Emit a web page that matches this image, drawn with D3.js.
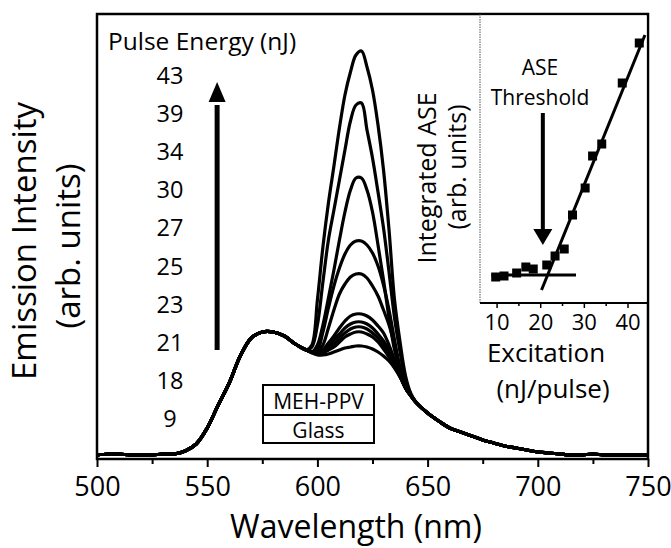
<!DOCTYPE html>
<html><head><meta charset="utf-8">
<script src="https://cdn.jsdelivr.net/npm/d3@7"></script>
<style>
body{margin:0;background:#fff}
svg text{font-family:"Open Sans",sans-serif;fill:#000}
</style>
</head><body>
<svg id="c" width="671" height="548"></svg>
<script>
// ---------- DATA ----------
const wlLeft   = [500,505,510,515,520,525,530,535,540,545,550,555,560,565,570,575,580,585,590];
const baseLeft = [0,1,1,0,0,0,1,1,4,11,27,50,72,99,117,123,123,119,111];
const wlPeak   = [595,597.5,600,602.5,605,607.5,610,612.5,615,617.5,620,622.5,625,627.5,630,632.5,635,637.5,640,642.5,645];
const wlRight  = [650,655,660,665,670,675,680,685,690,695,700,705,710,715,720,725,730,735,740,745,750];
const baseRight= [42,34,27,23,19,15,12,9,7,5,3,2,1,0,0,1,0,0,0,0,0];

const s9  = [105,102,100,100,101,103,105,107,108,109,109,108,106,103,99,94,87,78,67,59,52];
const s18 = [105,103,102,102,105,108,113,118,121,123,123,121,118,113,106,98,88,78,67,59,52];
const s21 = [105,103,102,102,106,111,117,122,126,128,128,126,122,117,110,101,90,79,67,59,52];
const s23 = [105,103,102,103,108,115,121,127,131,133,133,131,127,121,114,105,92,80,67,59,52];
const s25 = [105,103,102,105,112,119,127,134,139,141,141,139,135,129,122,110,95,81,67,59,52];
const s27 = [105,103,103,110,127,145,161,171,178,181,181,177,169,159,145,130,110,87,67,59,52];
const s30 = [105,103,105,123,147,169,187,201,210,214,214,210,202,189,170,145,115,87,67,59,52];
const s34 = [105,103,110,130,157,185,215,243,265,277,277,265,243,210,175,137,105,85,67,59,52];
const s39 = [105,108,130,173,215,245,275,305,334,350,352,325,297,263,227,183,137,103,75,60,52];
const s43 = [105,110,155,208,252,289,327,360,383,400,404,388,365,330,285,225,155,113,79,61,52];

const energies = [43,39,34,30,27,25,23,21,18,9];
const peakSeries = [s43,s39,s34,s30,s27,s25,s23,s21,s18,s9];

const xTicks = [500,550,600,650,700,750];
const xMinor = [525,575,625,675,725];

// inset
const excitation = [9.8,11.7,14.6,16.7,18.4,21.5,23.4,25.5,27.4,30.3,32.0,34.1,38.8,42.7];
const integratedASE = [26,27,30,36,34,38,47,54,88,115,147,159,220,260];
const fitBelowX = [8.8,28.2], fitBelowY = [28,28];
const fitAboveX = [20.3,44.0], fitAboveY = [13,268];
const insetTicks = [10,20,30,40];
const insetMinor = [15,25,35];
const thresholdX = 20.6;

// ---------- DRAW ----------
const svg = d3.select("#c");
const L=97, R=648, T=14, B=459;
const x = d3.scaleLinear().domain([500,750]).range([L,R]);
const y = d3.scaleLinear().domain([-4,441]).range([B,T]);

// spectra
const line = d3.line().x(d=>x(d[0])).y(d=>y(d[1])).curve(d3.curveCatmullRom.alpha(0.5));
const gS = svg.append("g");
peakSeries.slice().reverse().forEach(s=>{
  const pts = wlLeft.map((w,i)=>[w,baseLeft[i]])
    .concat(wlPeak.map((w,i)=>[w,s[i]]))
    .concat(wlRight.map((w,i)=>[w,baseRight[i]]));
  gS.append("path").attr("d",line(pts)).attr("fill","none")
    .attr("stroke","#000").attr("stroke-width",3.2).attr("stroke-linejoin","round");
});

// x axis
const ax = d3.axisBottom(x).tickValues(xTicks).tickSize(8).tickPadding(10).tickFormat(d3.format("d"));
const gx = svg.append("g").attr("transform",`translate(0,${B})`).call(ax);
gx.select(".domain").remove();
gx.selectAll("line").attr("stroke","#000").attr("stroke-width",2);
gx.selectAll("text").attr("font-size",27).style("font-family","Open Sans");
const gxm = svg.append("g").attr("transform",`translate(0,${B})`)
  .call(d3.axisBottom(x).tickValues(xMinor).tickSize(5).tickFormat(""));
gxm.select(".domain").remove();
gxm.selectAll("line").attr("stroke","#000").attr("stroke-width",2);

// frame
svg.append("rect").attr("x",L).attr("y",T).attr("width",R-L).attr("height",B-T)
  .attr("fill","none").attr("stroke","#000").attr("stroke-width",2.5);

// titles
svg.append("text").attr("x",356).attr("y",538).attr("text-anchor","middle")
  .attr("font-size",32).text("Wavelength (nm)");
svg.append("text").attr("transform","translate(36,241) rotate(-90)").attr("text-anchor","middle")
  .attr("font-size",33).text("Emission Intensity");
svg.append("text").attr("transform","translate(80,246) rotate(-90)").attr("text-anchor","middle")
  .attr("font-size",33).text("(arb. units)");

// legend of pulse energies
svg.append("text").attr("x",108).attr("y",50).attr("font-size",24.5).text("Pulse Energy (nJ)");
energies.forEach((e,i)=>{
  svg.append("text").attr("x",170).attr("y",83.5+i*38.2).attr("text-anchor","middle")
    .attr("font-size",23.5).text(e);
});
// arrow
const ax0 = x(554.5);
svg.append("line").attr("x1",ax0).attr("x2",ax0).attr("y1",y(105)).attr("y2",y(350))
  .attr("stroke","#000").attr("stroke-width",5);
svg.append("path").attr("d",`M${ax0},${y(373)} L${ax0-8.5},${y(353)} L${ax0+8.5},${y(353)} Z`).attr("fill","#000");

// sample box
const bx0=263,bx1=374,by0=385,by1=415,by2=443;
svg.append("rect").attr("x",bx0).attr("y",by0).attr("width",bx1-bx0).attr("height",by2-by0)
  .attr("fill","#fff").attr("stroke","#000").attr("stroke-width",2);
svg.append("line").attr("x1",bx0).attr("x2",bx1).attr("y1",by1).attr("y2",by1).attr("stroke","#000").attr("stroke-width",2);
svg.append("text").attr("x",(bx0+bx1)/2).attr("y",408.5).attr("text-anchor","middle").attr("font-size",21).text("MEH-PPV");
svg.append("text").attr("x",(bx0+bx1)/2).attr("y",437.5).attr("text-anchor","middle").attr("font-size",21).text("Glass");

// ---------- INSET ----------
const IL=480, IR=648, IT=14, IB=303;
const ix = d3.scaleLinear().domain([6.2,44.7]).range([IL,IR]);
const iy = d3.scaleLinear().domain([0,289]).range([IB,IT]);
svg.append("rect").attr("x",IL).attr("y",IT+1.5).attr("width",IR-IL-1.5).attr("height",IB-IT-1.5).attr("fill","#fff");
svg.append("line").attr("x1",IL).attr("x2",IL).attr("y1",IT).attr("y2",IB)
  .attr("stroke","#555").attr("stroke-width",1).attr("stroke-dasharray","1.5,1");
svg.append("line").attr("x1",IL).attr("x2",IR).attr("y1",IB).attr("y2",IB)
  .attr("stroke","#000").attr("stroke-width",2);
const gi = svg.append("g").attr("transform",`translate(0,${IB})`)
  .call(d3.axisBottom(ix).tickValues(insetTicks).tickSize(5).tickPadding(6));
gi.select(".domain").remove();
gi.selectAll("line").attr("stroke","#000").attr("stroke-width",1.5);
gi.selectAll("text").attr("font-size",22).style("font-family","Open Sans");
const gim = svg.append("g").attr("transform",`translate(0,${IB})`)
  .call(d3.axisBottom(ix).tickValues(insetMinor).tickSize(3).tickFormat(""));
gim.select(".domain").remove();
gim.selectAll("line").attr("stroke","#000").attr("stroke-width",1.5);

const fl = d3.line().x(d=>ix(d[0])).y(d=>iy(d[1]));
svg.append("path").attr("d",fl(fitBelowX.map((v,i)=>[v,fitBelowY[i]])))
  .attr("stroke","#000").attr("stroke-width",3).attr("fill","none");
svg.append("path").attr("d",fl(fitAboveX.map((v,i)=>[v,fitAboveY[i]])))
  .attr("stroke","#000").attr("stroke-width",3).attr("fill","none");
const sq = 9;
svg.append("g").selectAll("rect").data(excitation).join("rect")
  .attr("x",(d)=>ix(d)-sq/2).attr("y",(d,i)=>iy(integratedASE[i])-sq/2)
  .attr("width",sq).attr("height",sq).attr("fill","#000");

// inset arrow
const tx = ix(thresholdX);
svg.append("line").attr("x1",tx).attr("x2",tx).attr("y1",iy(190)).attr("y2",iy(70))
  .attr("stroke","#000").attr("stroke-width",4);
svg.append("path").attr("d",`M${tx},${iy(58)} L${tx-9.5},${iy(74)} L${tx+9.5},${iy(74)} Z`).attr("fill","#000");
svg.append("text").attr("x",540).attr("y",75).attr("text-anchor","middle").attr("font-size",21).text("ASE");
svg.append("text").attr("x",540).attr("y",105).attr("text-anchor","middle").attr("font-size",21).text("Threshold");

// inset titles
svg.append("text").attr("transform","translate(436,178) rotate(-90)").attr("text-anchor","middle")
  .attr("font-size",25).text("Integrated ASE");
svg.append("text").attr("transform","translate(466,167) rotate(-90)").attr("text-anchor","middle")
  .attr("font-size",25).text("(arb. units)");
svg.append("text").attr("x",546).attr("y",362).attr("text-anchor","middle").attr("font-size",26).text("Excitation");
svg.append("text").attr("x",553).attr("y",398).attr("text-anchor","middle").attr("font-size",26).text("(nJ/pulse)");
</script>
</body></html>
